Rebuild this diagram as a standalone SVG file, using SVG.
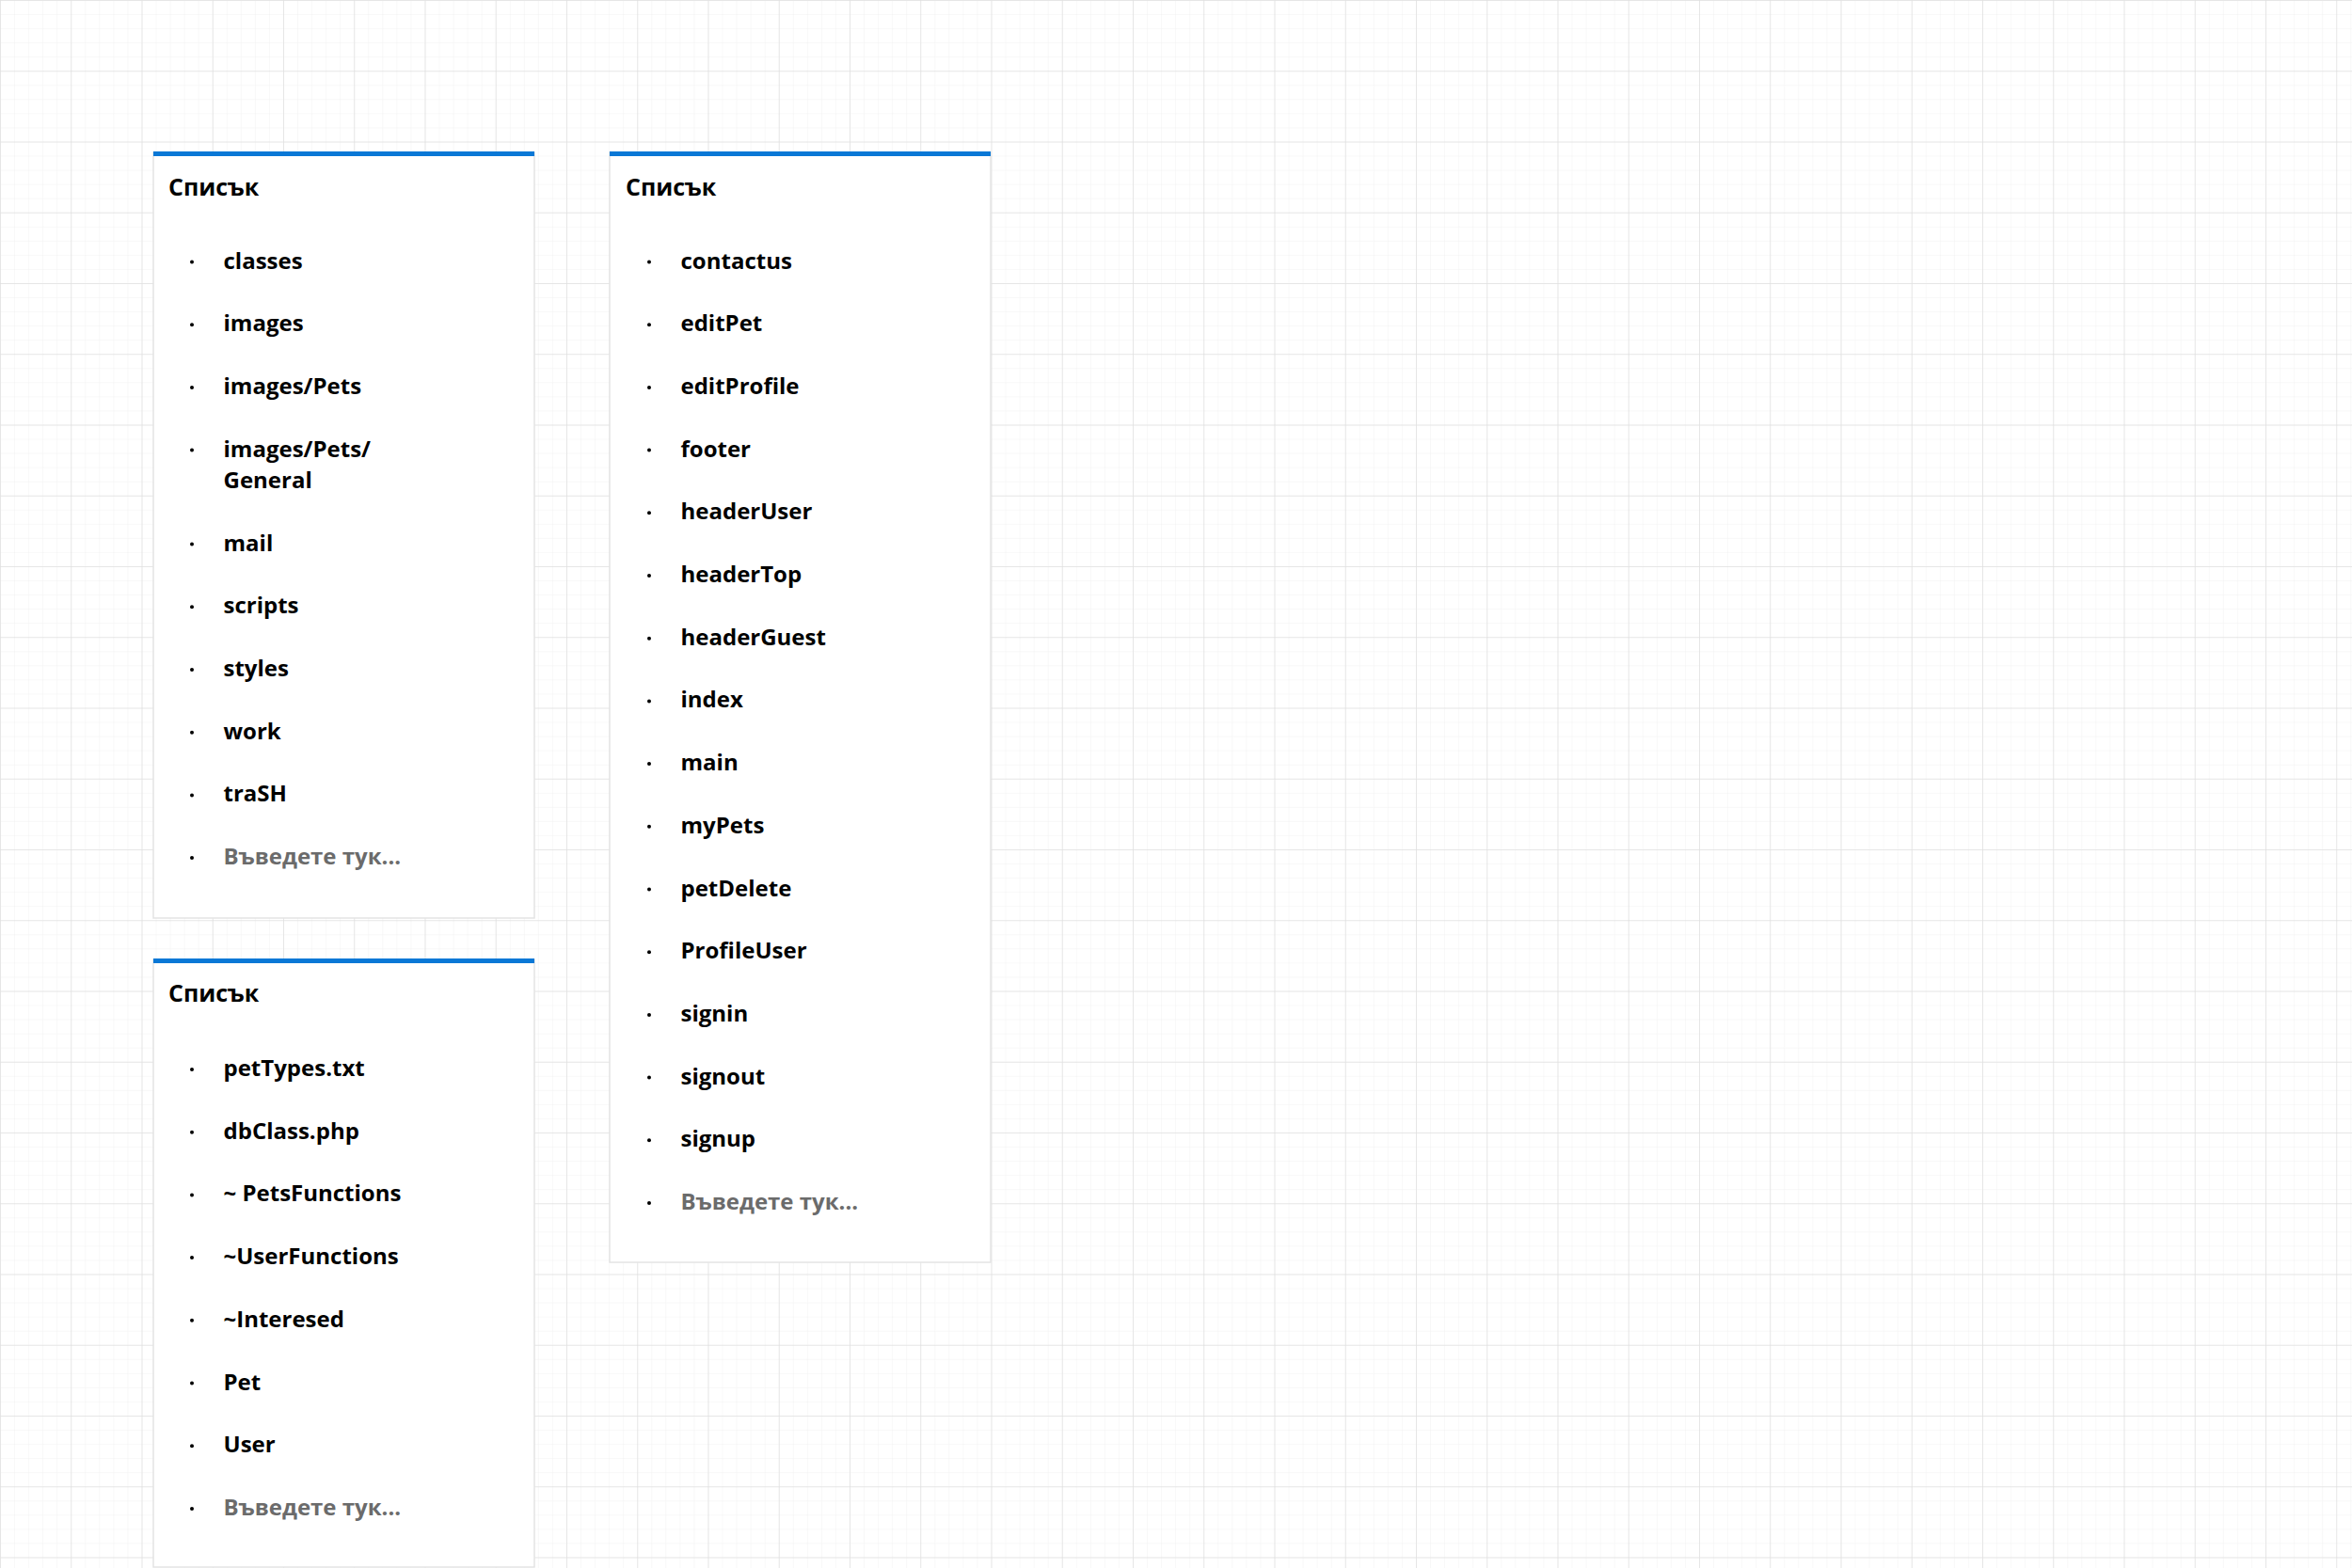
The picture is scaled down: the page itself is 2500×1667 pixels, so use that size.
<svg xmlns="http://www.w3.org/2000/svg" width="2500" height="1667" viewBox="0 0 2500 1667">
<defs>
<pattern id="minor" width="15.05" height="15.05" patternUnits="userSpaceOnUse">
<path d="M0 0H15.05M0 0V15.05" fill="none" stroke="#f1f1f1" stroke-width="1"/>
</pattern>
<pattern id="major" width="75.25" height="75.25" patternUnits="userSpaceOnUse">
<path d="M0 0H75.25M0 0V75.25" fill="none" stroke="#e1e1e1" stroke-width="1.5"/>
</pattern>
</defs>
<style>
.box{fill:#ffffff;stroke:#e4e4e4;stroke-width:1.5}
.bar{fill:#0a78d6}
.title{font-family:"Open Sans","Noto Sans","DejaVu Sans",sans-serif;font-weight:700;font-size:25px;fill:#000}
.item{font-family:"Open Sans","Noto Sans","DejaVu Sans",sans-serif;font-weight:700;font-size:24px;fill:#000}
.ph{font-family:"Open Sans","Noto Sans","DejaVu Sans",sans-serif;font-weight:700;font-size:24px;fill:#6b6b6b}
.dot{fill:#000}
</style>
<rect width="2500" height="1667" fill="#ffffff"/>
<rect width="2500" height="1667" fill="url(#minor)"/>
<rect width="2500" height="1667" fill="url(#major)"/>

<g id="list1">
<rect class="box" x="163" y="162" width="405" height="814"/>
<rect class="bar" x="163" y="161" width="405" height="5"/>
<text class="title" x="179" y="207.5">Списък</text>
<g transform="translate(0,1.5)">
<circle class="dot" cx="204" cy="277" r="2"/><text class="item" x="237.5" y="284">classes</text>
<circle class="dot" cx="204" cy="343.7" r="2"/><text class="item" x="237.5" y="350.7">images</text>
<circle class="dot" cx="204" cy="410.4" r="2"/><text class="item" x="237.5" y="417.4">images/Pets</text>
<circle class="dot" cx="204" cy="477.1" r="2"/><text class="item" x="237.5" y="484.1">images/Pets/</text><text class="item" x="237.5" y="517.4">General</text>
<circle class="dot" cx="204" cy="577.1" r="2"/><text class="item" x="237.5" y="584.1">mail</text>
<circle class="dot" cx="204" cy="643.8" r="2"/><text class="item" x="237.5" y="650.8">scripts</text>
<circle class="dot" cx="204" cy="710.5" r="2"/><text class="item" x="237.5" y="717.5">styles</text>
<circle class="dot" cx="204" cy="777.2" r="2"/><text class="item" x="237.5" y="784.2">work</text>
<circle class="dot" cx="204" cy="843.9" r="2"/><text class="item" x="237.5" y="850.9">traSH</text>
<circle class="dot" cx="204" cy="910.6" r="2"/><text class="ph" x="237.5" y="917.6">Въведете тук...</text>
</g>
</g>

<g id="list2">
<rect class="box" x="163" y="1020" width="405" height="646"/>
<rect class="bar" x="163" y="1019" width="405" height="5"/>
<text class="title" x="179" y="1064.5">Списък</text>
<g transform="translate(0,1)">
<circle class="dot" cx="204" cy="1136" r="2"/><text class="item" x="237.5" y="1143">petTypes.txt</text>
<circle class="dot" cx="204" cy="1202.7" r="2"/><text class="item" x="237.5" y="1209.7">dbClass.php</text>
<circle class="dot" cx="204" cy="1269.4" r="2"/><text class="item" x="237.5" y="1276.4">~ PetsFunctions</text>
<circle class="dot" cx="204" cy="1336.1" r="2"/><text class="item" x="237.5" y="1343.1">~UserFunctions</text>
<circle class="dot" cx="204" cy="1402.8" r="2"/><text class="item" x="237.5" y="1409.8">~Interesed</text>
<circle class="dot" cx="204" cy="1469.5" r="2"/><text class="item" x="237.5" y="1476.5">Pet</text>
<circle class="dot" cx="204" cy="1536.2" r="2"/><text class="item" x="237.5" y="1543.2">User</text>
<circle class="dot" cx="204" cy="1602.9" r="2"/><text class="ph" x="237.5" y="1609.9">Въведете тук...</text>
</g>
</g>

<g id="list3">
<rect class="box" x="648" y="162" width="405" height="1180"/>
<rect class="bar" x="648" y="161" width="405" height="5"/>
<text class="title" x="665" y="207.5">Списък</text>
<g transform="translate(0,1.5)">
<circle class="dot" cx="690" cy="277" r="2"/><text class="item" x="723.5" y="284">contactus</text>
<circle class="dot" cx="690" cy="343.7" r="2"/><text class="item" x="723.5" y="350.7">editPet</text>
<circle class="dot" cx="690" cy="410.4" r="2"/><text class="item" x="723.5" y="417.4">editProfile</text>
<circle class="dot" cx="690" cy="477.1" r="2"/><text class="item" x="723.5" y="484.1">footer</text>
<circle class="dot" cx="690" cy="543.8" r="2"/><text class="item" x="723.5" y="550.8">headerUser</text>
<circle class="dot" cx="690" cy="610.5" r="2"/><text class="item" x="723.5" y="617.5">headerTop</text>
<circle class="dot" cx="690" cy="677.2" r="2"/><text class="item" x="723.5" y="684.2">headerGuest</text>
<circle class="dot" cx="690" cy="743.9" r="2"/><text class="item" x="723.5" y="750.9">index</text>
<circle class="dot" cx="690" cy="810.6" r="2"/><text class="item" x="723.5" y="817.6">main</text>
<circle class="dot" cx="690" cy="877.3" r="2"/><text class="item" x="723.5" y="884.3">myPets</text>
<circle class="dot" cx="690" cy="944" r="2"/><text class="item" x="723.5" y="951">petDelete</text>
<circle class="dot" cx="690" cy="1010.7" r="2"/><text class="item" x="723.5" y="1017.7">ProfileUser</text>
<circle class="dot" cx="690" cy="1077.4" r="2"/><text class="item" x="723.5" y="1084.4">signin</text>
<circle class="dot" cx="690" cy="1144.1" r="2"/><text class="item" x="723.5" y="1151.1">signout</text>
<circle class="dot" cx="690" cy="1210.8" r="2"/><text class="item" x="723.5" y="1217.8">signup</text>
<circle class="dot" cx="690" cy="1277.5" r="2"/><text class="ph" x="723.5" y="1284.5">Въведете тук...</text>
</g>
</g>

<g id="connectors"/>
</svg>
